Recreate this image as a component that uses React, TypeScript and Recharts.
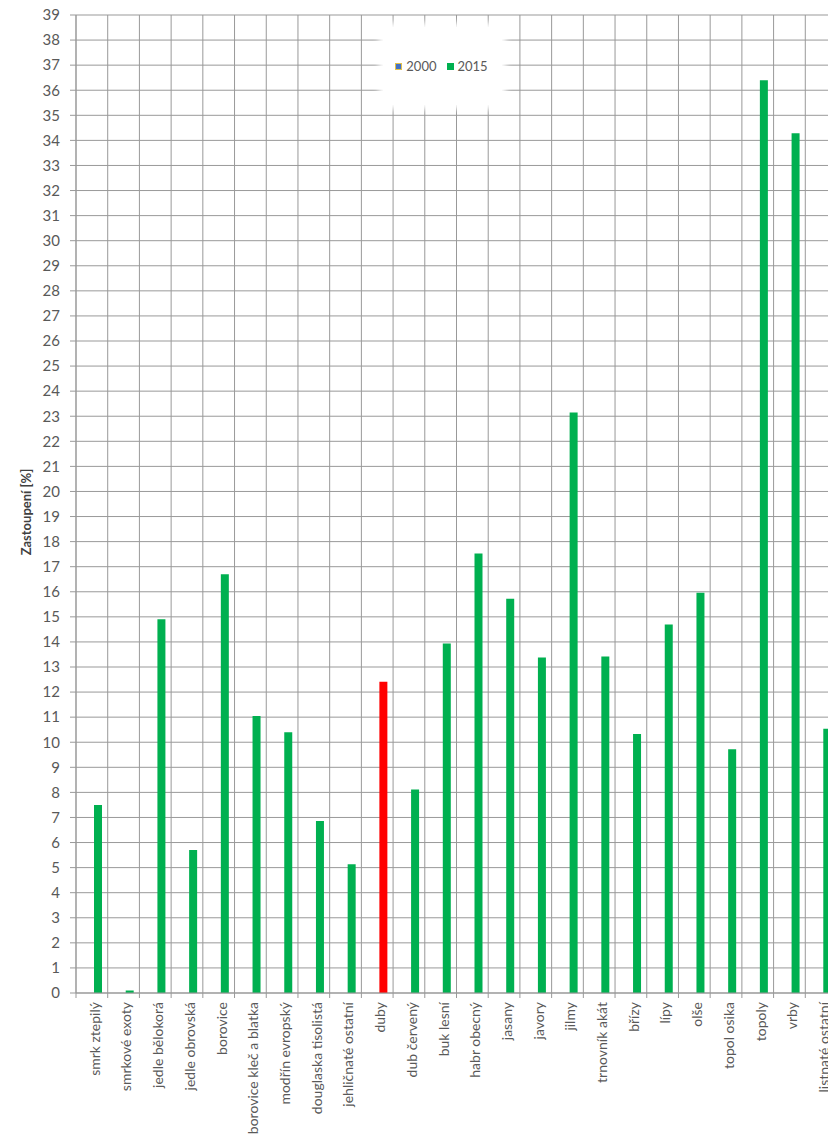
import { BarChart, Bar, XAxis, YAxis, CartesianGrid, Legend, Cell, Label } from "recharts";

const categories = [
  "smrk ztepilý",
  "smrkové exoty",
  "jedle bělokorá",
  "jedle obrovská",
  "borovice",
  "borovice kleč a blatka",
  "modřín evropský",
  "douglaska tisolistá",
  "jehličnaté ostatní",
  "duby",
  "dub červený",
  "buk lesní",
  "habr obecný",
  "jasany",
  "javory",
  "jilmy",
  "trnovník akát",
  "břízy",
  "lípy",
  "olše",
  "topol osika",
  "topoly",
  "vrby",
  "listnaté ostatní",
];

const values2000 = [0, 0, 0, 0, 0, 0, 0, 0, 0, 0, 0, 0, 0, 0, 0, 0, 0, 0, 0, 0, 0, 0, 0, 0];

const values2015 = [
  7.5, 0.1, 14.9, 5.7, 16.7, 11.05, 10.4, 6.86, 5.13, 12.41, 8.12, 13.94,
  17.53, 15.72, 13.38, 23.15, 13.42, 10.33, 14.69, 15.96, 9.72, 36.4, 34.28, 10.54,
];

const yTicks = [
  0, 1, 2, 3, 4, 5, 6, 7, 8, 9, 10, 11, 12, 13, 14, 15, 16, 17, 18, 19,
  20, 21, 22, 23, 24, 25, 26, 27, 28, 29, 30, 31, 32, 33, 34, 35, 36, 37, 38, 39,
];

const highlighted = "duby";

const data = categories.map((name, i) => ({
  name,
  y2000: values2000[i],
  y2015: values2015[i],
}));

const FONT = "Lato, 'Open Sans', sans-serif";
const TEXT = "#595959";
const GRID = "#999999";
const GREEN = "#00b050";
const BLUE = "#4472c4";
const RED = "#ff0000";

const CHART_W = 850;
const CHART_H = 1136;
const MARGIN = { top: 15, right: 13, bottom: 0, left: 16 };
const Y_AXIS_W = 60;
const PLOT_W = CHART_W - MARGIN.left - MARGIN.right - Y_AXIS_W;
const BAND = PLOT_W / categories.length;

function XTick({ x, y, payload }: any) {
  return (
    <g>
      <line x1={x - BAND / 2} x2={x - BAND / 2} y1={y - 7} y2={y - 2} stroke={GRID} />
      <text
        x={x + 3}
        y={y + 2}
        dy="0.35em"
        transform={`rotate(-90, ${x + 3}, ${y + 2})`}
        textAnchor="end"
        fill={TEXT}
        fontSize={14}
        fontFamily={FONT}
      >
        {payload.value}
      </text>
    </g>
  );
}

function LegendBox() {
  const items = [
    { label: "2000", color: BLUE, border: "#e3c14a" },
    { label: "2015", color: GREEN, border: GREEN },
  ];
  return (
    <div
      style={{
        width: "100%",
        height: "100%",
        background: "#fff",
        boxShadow: "0 0 6px 4px #fff",
        display: "flex",
        alignItems: "center",
        justifyContent: "center",
        paddingLeft: 8,
        boxSizing: "border-box",
        fontFamily: FONT,
        fontSize: 13,
        color: TEXT,
      }}
    >
      {items.map((it) => (
        <span key={it.label} style={{ display: "flex", alignItems: "center", marginRight: 10 }}>
          <span
            style={{
              width: 5,
              height: 5,
              background: it.color,
              border: `1px solid ${it.border}`,
              marginRight: 4,
              display: "inline-block",
            }}
          />
          {it.label}
        </span>
      ))}
    </div>
  );
}

function YLabel({ viewBox }: any) {
  const cx = viewBox.x + 10;
  const cy = viewBox.y + viewBox.height / 2 + 8;
  return (
    <text
      x={cx}
      y={cy}
      transform={`rotate(-90, ${cx}, ${cy})`}
      textAnchor="middle"
      dominantBaseline="central"
      fill="#404040"
      fontSize={13}
      fontWeight="bold"
      fontFamily={FONT}
    >
      Zastoupení [%]
    </text>
  );
}

export default function App() {
  return (
    <div
      style={{
        position: "absolute",
        left: 0,
        top: 0,
        width: 828,
        height: 1136,
        overflow: "hidden",
        background: "#fff",
      }}
    >
      <BarChart
        width={CHART_W}
        height={CHART_H}
        data={data}
        margin={MARGIN}
        barGap={4}
        barSize={8}
      >
        <CartesianGrid
          stroke={GRID}
          horizontal
          vertical
          verticalCoordinatesGenerator={({ offset }: any) =>
            categories.map((_, i) => offset.left + (i * offset.width) / categories.length)
          }
        />
        <XAxis
          dataKey="name"
          interval={0}
          height={143}
          tickLine={false}
          tickSize={0}
          tickMargin={7}
          axisLine={{ stroke: GRID }}
          tick={<XTick />}
        />
        <YAxis
          width={Y_AXIS_W}
          domain={[0, 39]}
          ticks={yTicks}
          interval={0}
          tickSize={6}
          tickMargin={10}
          axisLine={{ stroke: GRID }}
          tickLine={{ stroke: GRID }}
          tick={{ fill: TEXT, fontSize: 15, fontFamily: FONT }}
        >
          <Label content={<YLabel />} />
        </YAxis>
        <Legend
          layout="horizontal"
          align="center"
          verticalAlign="middle"
          content={<LegendBox />}
          wrapperStyle={{ position: "absolute", left: 383, top: 27, width: 119, height: 78 }}
        />
        <Bar dataKey="y2000" name="2000" fill={BLUE} isAnimationActive={false} />
        <Bar dataKey="y2015" name="2015" fill={GREEN} isAnimationActive={false}>
          {data.map((d) => (
            <Cell key={d.name} fill={d.name === highlighted ? RED : GREEN} />
          ))}
        </Bar>
      </BarChart>
    </div>
  );
}
